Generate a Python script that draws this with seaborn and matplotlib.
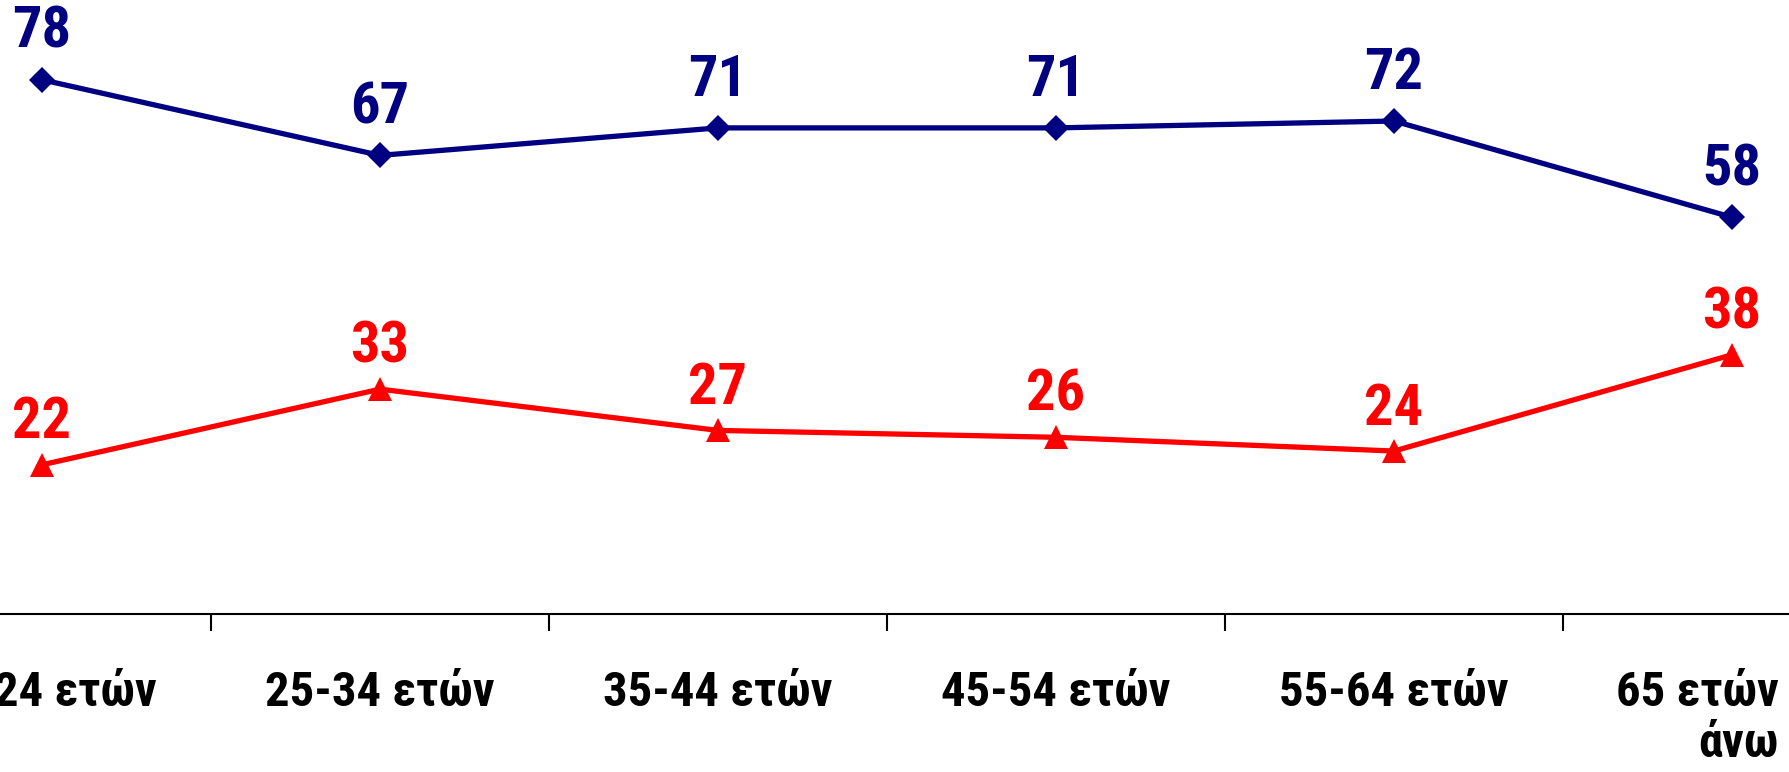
import seaborn as sns
import matplotlib.pyplot as plt
import matplotlib.transforms as mtransforms
import pandas as pd

# age groups and the two series
age_groups = ['18-24 ετών', '25-34 ετών', '35-44 ετών', '45-54 ετών', '55-64 ετών', '65 ετών\nάνω']
blue_values = [78, 67, 71, 71, 72, 58]
red_values = [22, 33, 27, 26, 24, 38]

sns.set_style('white')
plt.rcParams['font.family'] = ['Roboto Condensed', 'DejaVu Sans']
plt.rcParams['font.weight'] = 'bold'

fig = plt.figure(figsize=(17.89, 7.72), dpi=100)
# axes runs past both figure edges, like the cropped original
left = -127 / 1789
width = 2028 / 1789
bottom = (772 - 614) / 772
ax = fig.add_axes([left, bottom, width, 1 - bottom])

pos = list(range(len(age_groups)))
df = pd.DataFrame({'pos': pos, 'blue': blue_values, 'red': red_values})

sns.lineplot(data=df, x='pos', y='blue', color='#000080', linewidth=3.8,
             marker='D', markersize=13, markeredgewidth=0, ax=ax)
sns.lineplot(data=df, x='pos', y='red', color='#FF0000', linewidth=3.8,
             marker='^', markersize=17, markeredgewidth=0, ax=ax)

# value labels above the points
for x, v in zip(pos, blue_values):
    ax.annotate(str(v), (x, v), xytext=(0, 23), textcoords='offset points',
                ha='center', va='baseline', fontsize=42, fontweight='bold', color='#000080')
for x, v in zip(pos, red_values):
    ax.annotate(str(v), (x, v), xytext=(0, 19), textcoords='offset points',
                ha='center', va='baseline', fontsize=42, fontweight='bold', color='#FF0000')

ax.set_xlim(-0.5, len(age_groups) - 0.5)
ax.set_ylim(0.3, 89.6)

# ticks sit between categories, labels at the centers
ax.set_xticks([p + 0.5 for p in pos[:-1]])
ax.set_xticklabels([])
ax.set_xticks(pos, minor=True)
ax.set_xticklabels(age_groups, minor=True, fontsize=35, fontweight='bold',
                   linespacing=1.15, color='black')
ax.tick_params(axis='x', which='major', direction='out', length=12, width=1.5, color='black', bottom=True)
ax.tick_params(axis='x', which='minor', length=0, pad=40)
ax.set_yticks([])
ax.set_xlabel('')
ax.set_ylabel('')

# the last (two-line) label is pulled left and right-aligned, as in the original
last = ax.get_xticklabels(minor=True)[-1]
last.set_multialignment('right')
last.set_transform(last.get_transform() + mtransforms.ScaledTranslation(-0.35, 0, fig.dpi_scale_trans))

for side in ['top', 'left', 'right']:
    ax.spines[side].set_visible(False)
ax.spines['bottom'].set_color('black')
ax.spines['bottom'].set_linewidth(1.5)

fig.savefig('out.png', dpi=100)
